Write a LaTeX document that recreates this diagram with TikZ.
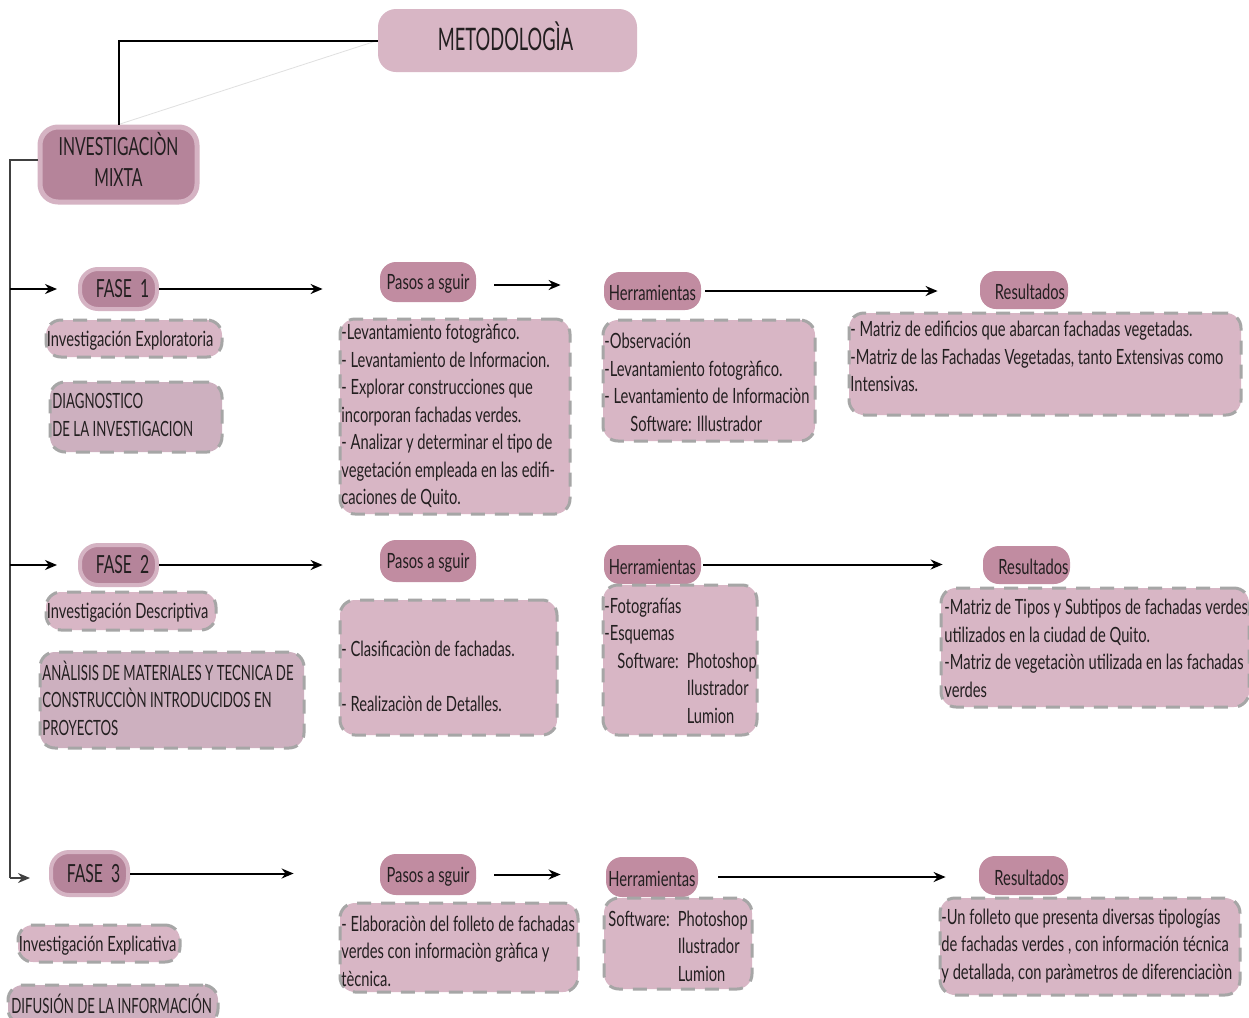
\documentclass[tikz,border=0pt]{standalone}
\usepackage{fontspec}
\setmainfont{Lato}[FakeStretch=0.70]
\newfontfamily\capsfont{Lato}[FakeStretch=0.63]
\newfontfamily\titlefont{Lato}[FakeStretch=0.59]
\usetikzlibrary{fit,arrows.meta}

\definecolor{ink}{HTML}{231F20}
\definecolor{pinkbox}{HTML}{D8B6C5}
\definecolor{mauvebox}{HTML}{CDB0BF}
\definecolor{tab}{HTML}{C18CA1}
\definecolor{deep}{HTML}{B5849A}
\definecolor{rim}{HTML}{D5B3C3}
\definecolor{dashgray}{HTML}{A6A6A6}

\tikzset{
  bodyfont/.style={font=\fontsize{10.5}{13.75}\selectfont},
  capsbody/.style={font=\capsfont\fontsize{10.5}{13.75}\selectfont},
  tabnode/.style={rounded corners=8pt, fill=tab, inner sep=0pt},
  phase/.style={rounded corners=9pt, fill=deep, draw=rim, line width=2pt, inner sep=0pt},
  cbox/.style={rounded corners=7.5pt, fill=pinkbox, draw=dashgray, line width=1.5pt,
    dash pattern=on 7pt off 5pt, inner sep=0pt},
  gbox/.style={cbox, fill=mauvebox},
  lbl/.style={inner sep=0pt, text=ink, bodyfont, yshift=-1pt},
  phaselbl/.style={inner sep=0pt, text=ink, font=\capsfont\fontsize{12.5}{15.5}\selectfont},
  txt/.style={anchor=west, align=left, inner sep=0pt, text=ink, bodyfont},
  conn/.style={draw=black, line width=1pt},
  arr/.style={conn, -{Stealth[length=6pt,width=5pt]}},
}

\begin{document}
\begin{tikzpicture}[x=0.5pt,y=-0.5pt]
\useasboundingbox[fill=white] (0,0) rectangle (1249,1018);

% ---------- title and root ----------
\node[fit={(378,9) (637,72)}, rounded corners=9pt, fill=pinkbox, inner sep=0pt] (meto) {};
\node[inner sep=0pt, text=ink, font=\titlefont\fontsize{15.5}{18}\selectfont] (metol)
  at ([xshift=-1pt,yshift=2pt]meto.center) {METODOLOGÌA};
\node[phase, line width=2.5pt, fit={(40,127) (197,202)}] (inv) {};
\node[phaselbl, align=center, font=\capsfont\fontsize{12.5}{15.5}\selectfont] (invl)
  at ([yshift=2.5pt]inv.center) {INVESTIGACIÒN\\MIXTA};

\draw[draw=black!12, line width=0.4pt] (meto.west) -- (inv.north);
\draw[conn] (meto.west) -| (inv.north);

% ---------- phase labels ----------
\node[phase, fit={(80,269) (157,309)}] (f1) {};
\node[phaselbl] (f1l) at ([xshift=2pt]f1.center) {FASE\ \ 1};
\node[phase, fit={(80,545) (157,585)}] (f2) {};
\node[phaselbl] (f2l) at ([xshift=2pt]f2.center) {FASE\ \ 2};
\node[phase, fit={(51,852) (128,895)}] (f3) {};
\node[phaselbl] (f3l) at ([xshift=2pt]f3.center) {FASE\ \ 3};

% trunk on the left
\coordinate (ttop) at (10,160);
\coordinate (tbot) at (10,878);
\coordinate (f3in) at (30,878);
\draw[conn, draw=black!75, line width=0.75pt] (inv.west |- ttop) -- (ttop) -- (tbot);
\draw[arr, draw=black!75, line width=0.75pt] (tbot) -- (f3in);
\draw[arr] (ttop |- f1.west) -- ([xshift=-10.5pt]f1.west);
\draw[arr] (ttop |- f2.west) -- ([xshift=-10.5pt]f2.west);

% ---------- left column descriptions ----------
\node[cbox, fit={(46,320) (222,357)}] (d1) {};
\node[lbl, anchor=west] (d1l) at ([xshift=1pt]d1.west) {Investigación Exploratoria};
\node[gbox, fit={(50,382) (222,452)}] (g1) {};
\node[txt, capsbody] (g1t) at (52,415) {DIAGNOSTICO\\DE LA INVESTIGACION};

\node[cbox, fit={(46,592) (216,630)}] (d2) {};
\node[lbl, anchor=west] (d2l) at ([xshift=1pt]d2.west) {Investigación Descriptiva};
\node[gbox, fit={(40,652) (304,748)}] (g2) {};
\node[txt, capsbody] (g2t) at (42,698) {ANÀLISIS DE MATERIALES Y TECNICA DE\\CONSTRUCCIÒN INTRODUCIDOS EN\\PROYECTOS};

\node[cbox, fit={(18,925) (180,962)}] (d3) {};
\node[lbl, anchor=west] (d3l) at ([xshift=1pt]d3.west) {Investigación Explicativa};
\node[gbox, fit={(8,985) (218,1024)}] (g3) {};
\node[txt, capsbody] (g3t) at (11,1004) {DIFUSIÓN DE LA INFORMACIÓN};

% ---------- row 1 ----------
\node[tabnode, fit={(380,262) (476,302)}] (p1) {};
\node[lbl] (p1l) at (p1.center) {Pasos a sguir};
\node[tabnode, fit={(604,272) (701,310)}] (h1) {};
\node[lbl] (h1l) at (h1.center) {Herramientas};
\node[tabnode, fit={(980,271) (1068,309)}] (r1) {};
\node[lbl] (r1l) at ([xshift=3pt]r1.center) {Resultados};

\node[cbox, fit={(340,319) (570,514)}] (p1b) {};
\node[txt] (p1t) at (341,416) {-Levantamiento fotogràfico.\\
- Levantamiento de Informacion.\\
- Explorar construcciones que\\
incorporan fachadas verdes.\\
- Analizar y determinar el tipo de\\
vegetación empleada en las edifi-\\
caciones de Quito.};

\node[cbox, fit={(603,320) (815,441)}] (h1b) {};
\node[txt] (h1t) at (604,382.5) {-Observación\\
-Levantamiento fotogràfico.\\
- Levantamiento de Informaciòn\\
\hspace*{13pt}Software: Illustrador};

\node[cbox, fit={(849,313) (1241,415)}] (r1b) {};
\node[txt] (r1t) at (850,356.5) {- Matriz de edificios que abarcan fachadas vegetadas.\\
-Matriz de las Fachadas Vegetadas, tanto Extensivas como\\
Intensivas.};

\draw[arr, shorten >=28.5pt] (f1.east) -- (p1.west |- f1.east);
\draw[arr, shorten <=9pt, shorten >=21.5pt] ([yshift=-1.5pt]p1.east) -- ([yshift=-1.5pt]h1.west |- p1.east);
\draw[arr, shorten <=2pt, shorten >=21pt] (h1.east) -- (r1.west |- h1.east);

% ---------- row 2 ----------
\node[tabnode, fit={(380,540) (476,582)}] (p2) {};
\node[lbl] (p2l) at (p2.center) {Pasos a sguir};
\node[tabnode, fit={(604,545) (701,584)}] (h2) {};
\node[lbl] (h2l) at (h2.center) {Herramientas};
\node[tabnode, fit={(983,546) (1070,584)}] (r2) {};
\node[lbl] (r2l) at ([xshift=3.5pt]r2.center) {Resultados};

\node[cbox, fit={(340,600) (557,735)}] (p2b) {};
\node[txt] (p2t) at (341,676.5) {- Clasificaciòn de fachadas.\\[13.75pt]
- Realizaciòn de Detalles.};

\node[cbox, fit={(603,585) (757,735)}] (h2b) {};
\node[txt] (h2t) at (604,660.5) {-Fotografías\\
-Esquemas\\
\hspace*{6.5pt}Software:\hspace{4pt}Photoshop\\
\hspace*{6.5pt}\hphantom{Software:\hspace{4pt}}Ilustrador\\
\hspace*{6.5pt}\hphantom{Software:\hspace{4pt}}Lumion};

\node[cbox, fit={(941,588) (1249,707)}] (r2b) {};
\node[txt] (r2t) at (944,648.5) {-Matriz de Tipos y Subtipos de fachadas verdes\\
utilizados en la ciudad de Quito.\\
-Matriz de vegetaciòn utilizada en las fachadas\\
verdes};

\draw[arr, shorten >=28.5pt] (f2.east) -- (p2.west |- f2.east);
\draw[arr, shorten <=1pt, shorten >=20pt] (h2.east) -- (r2.west |- h2.east);

% ---------- row 3 ----------
\node[tabnode, fit={(380,854) (476,895)}] (p3) {};
\node[lbl] (p3l) at (p3.center) {Pasos a sguir};
\node[tabnode, fit={(606,857) (698,897)}] (h3) {};
\node[lbl] (h3l) at (h3.center) {Herramientas};
\node[tabnode, fit={(979,856) (1068,895)}] (r3) {};
\node[lbl] (r3l) at ([xshift=3pt]r3.center) {Resultados};

\node[cbox, fit={(340,903) (578,992)}] (p3b) {};
\node[txt] (p3t) at (341,951) {- Elaboraciòn del folleto de fachadas\\
verdes con informaciòn gràfica y\\
tècnica.};

\node[cbox, fit={(604,898) (752,989)}] (h3b) {};
\node[txt] (h3t) at (608,946) {Software:\hspace{4pt}Photoshop\\
\hphantom{Software:\hspace{4pt}}Ilustrador\\
\hphantom{Software:\hspace{4pt}}Lumion};

\node[cbox, fit={(940,898) (1240,995)}] (r3b) {};
\node[txt] (r3t) at (941,946) {-Un folleto que presenta diversas tipologías\\
de fachadas verdes , con información técnica\\
y detallada, con paràmetros de diferenciaciòn};

\draw[arr, shorten >=43pt] (f3.east) -- (p3.west |- f3.east);
\draw[arr, shorten <=9pt, shorten >=22.5pt] (p3.east) -- (h3.west |- p3.east);
\draw[arr, shorten <=10pt, shorten >=16.5pt] (h3.east) -- (r3.west |- h3.east);
\end{tikzpicture}
\end{document}
